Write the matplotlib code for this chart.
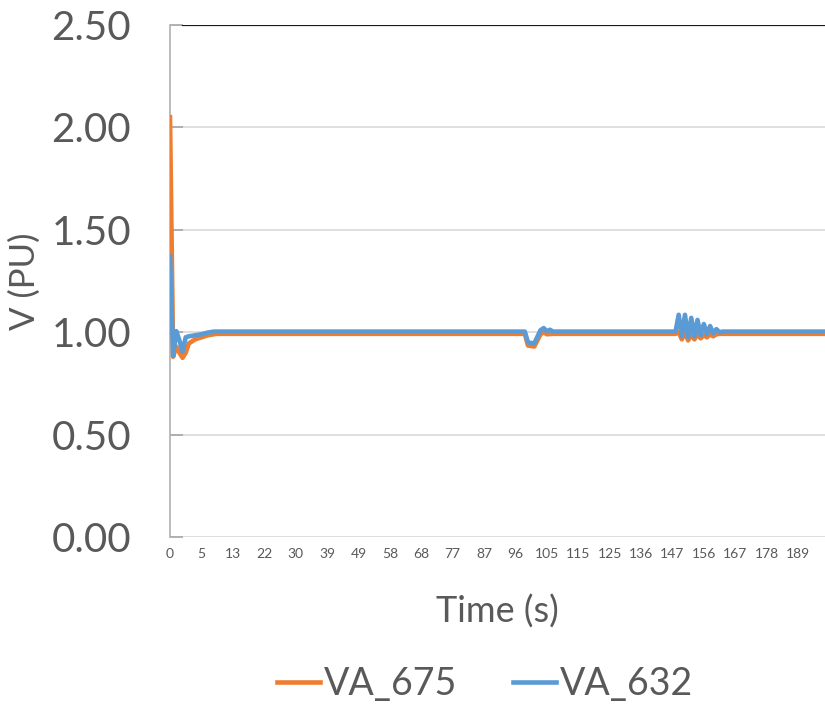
import matplotlib
matplotlib.use("Agg")
import matplotlib.pyplot as plt

# sample index along the category axis and values
idx_675 = [0, 1, 2, 3, 4, 5, 6, 7, 8, 10, 12, 14, 15,
           113, 114, 116, 118, 119, 120, 122,
           161, 162, 163, 164, 165, 166, 167, 168, 169, 170, 171, 172, 173, 174, 175, 209]
va_675 = [2.05, 0.88, 0.93, 0.90, 0.875, 0.90, 0.945, 0.955, 0.965, 0.975, 0.985, 0.99, 0.992,
          0.992, 0.935, 0.93, 0.99, 1.00, 0.99, 0.992,
          0.992, 1.00, 0.965, 1.00, 0.96, 0.99, 0.965, 0.99, 0.97, 0.985, 0.975, 0.99, 0.98, 0.99, 0.992, 0.992]

idx_632 = [0, 1, 2, 3, 4, 5, 6, 8, 10, 12, 14,
           113, 114, 116, 118, 119, 120, 121, 122,
           161, 162, 163, 164, 165, 166, 167, 168, 169, 170, 171, 172, 173, 174, 175, 176, 209]
va_632 = [1.37, 0.885, 1.005, 0.96, 0.905, 0.975, 0.98, 0.985, 0.99, 0.998, 1.003,
          1.003, 0.95, 0.945, 1.01, 1.02, 1.005, 1.012, 1.003,
          1.003, 1.085, 0.98, 1.085, 0.975, 1.07, 0.98, 1.06, 0.985, 1.04, 0.99, 1.03, 0.995, 1.015, 1.0, 1.003, 1.003]

time_labels = ["0", "5", "13", "22", "30", "39", "49", "58", "68", "77", "87",
               "96", "105", "115", "125", "136", "147", "156", "167", "178", "189"]
y_ticks = [0.0, 0.5, 1.0, 1.5, 2.0, 2.5]

grey = "#595959"
font = ["Lato", "DejaVu Sans"]
plt.rcParams["font.family"] = font

fig = plt.figure(figsize=(8.25, 7.08), dpi=100)
ax = fig.add_axes([170 / 825, 171 / 708, 655 / 825, 512 / 708])

ax.plot(idx_675, va_675, color="#ED7D31", lw=3.3, solid_joinstyle="round", label="VA_675", zorder=3)
ax.plot(idx_632, va_632, color="#5B9BD5", lw=3.3, solid_joinstyle="round", label="VA_632", zorder=4)

ax.set_xlim(0, 655 / 3.14)
ax.set_ylim(0, 2.5)
ax.set_yticks(y_ticks)
ax.set_yticklabels([f"{v:.2f}" for v in y_ticks], fontsize=29, color=grey)
ax.set_xticks(range(0, 10 * len(time_labels), 10))
ax.set_xticklabels(time_labels, fontsize=10, color=grey)
ax.tick_params(axis="x", length=0, pad=8)
ax.tick_params(axis="y", direction="in", length=9, color="#a6a6a6", width=1.2, pad=28)

ax.grid(axis="y", color="#d9d9d9", lw=1.2)
ax.axhline(2.5, xmin=0.02, color="#1a1a1a", lw=1.6, zorder=5)
for s in ["top", "right", "bottom"]:
    ax.spines[s].set_visible(False)
ax.spines["left"].set_color("#b0b0b0")
ax.spines["left"].set_linewidth(1.2)

ax.set_xlabel("Time (s)", fontsize=26, color=grey, labelpad=25)
ax.set_ylabel("V (PU)", fontsize=25, color=grey, labelpad=8)

fig.legend(loc="center", bbox_to_anchor=(0.588, 24 / 708), ncol=2, frameon=False,
           fontsize=27, handlelength=1.15, columnspacing=1.5, handletextpad=0.1,
           labelcolor=grey)

fig.savefig("out.png", dpi=100)
